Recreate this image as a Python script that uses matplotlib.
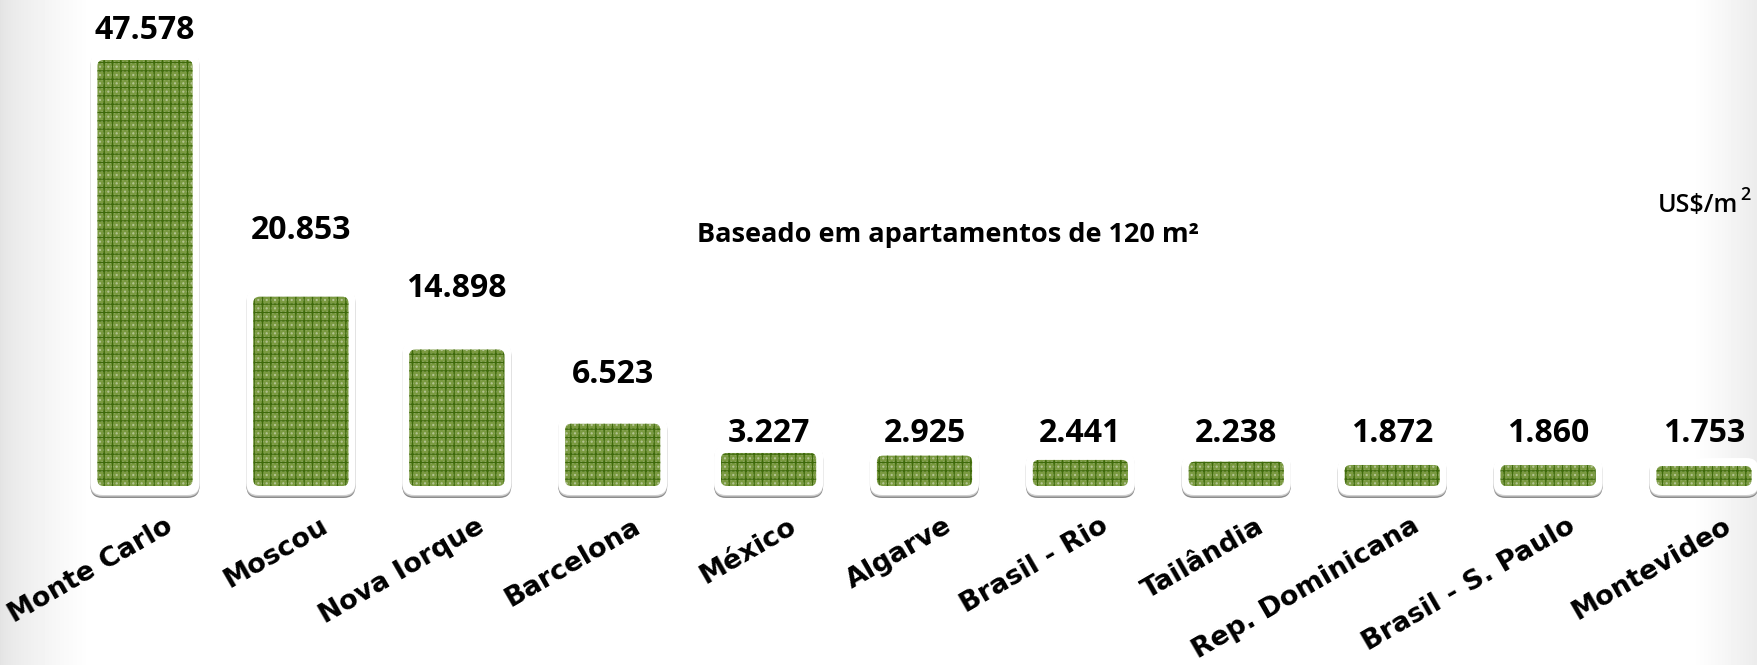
import numpy as np
import matplotlib.pyplot as plt
from matplotlib.patches import FancyBboxPatch

# data
cities = ["Monte Carlo", "Moscou", "Nova Iorque", "Barcelona", "México", "Algarve",
          "Brasil - Rio", "Tailândia", "Rep. Dominicana", "Brasil - S. Paulo", "Montevideo"]
prices = [47578, 20853, 14898, 6523, 3227, 2925, 2441, 2238, 1872, 1860, 1753]
note = "Baseado em apartamentos de 120 m²"
unit = "US$/m"

# layout: gap (px) between each bar top and its value label, as placed in the original
label_gap_px = [21, 58, 53, 41, 11, 14, 18, 20, 23, 23, 24]

W, H = 1758, 665
FONT = "Open Sans"
axis_floor = -500          # value axis starts slightly below zero

fig = plt.figure(figsize=(W / 100, H / 100), dpi=100)

# background with soft grey edges
bg = fig.add_axes([0, 0, 1, 1], zorder=0)
bg.axis("off")
xs = np.arange(W)
shade = np.ones(W)
left = xs < 90
shade[left] = 0.89 + 0.11 * (xs[left] / 90) ** 0.7
right = xs > 1690
shade[right] = 1.0 - 0.08 * ((xs[right] - 1690) / 68) ** 1.2
bg.imshow(np.tile(shade, (2, 1)), cmap="gray", vmin=0, vmax=1, aspect="auto",
          extent=[0, 1, 0, 1])
bg.set_xlim(0, 1)
bg.set_ylim(0, 1)

# plotting axes: baseline at y=486 px, tallest bar top at y=60 px
base_px, top_px = 486, 60
ax = fig.add_axes([0, (H - base_px) / H, 1, (base_px - top_px) / H], zorder=1)
ax.patch.set_alpha(0)
ax.axis("off")

step_px = 155.9
first_px = 145
x = np.arange(len(cities))
ax.set_xlim(-first_px / step_px, (W - first_px) / step_px)
ax.set_ylim(axis_floor, max(prices))

bars = ax.bar(x, [p - axis_floor for p in prices], bottom=axis_floor, width=0.61)

# pixel -> data conversions
px_x = ax.transData.transform((1, 0))[0] - ax.transData.transform((0, 0))[0]
px_y = ax.transData.transform((0, 1))[1] - ax.transData.transform((0, 0))[1]
aspect = (1 / px_y) / (1 / px_x)

for b in bars:
    b.set_visible(False)
    bx, by, bw, bh = b.get_x(), b.get_y(), b.get_width(), b.get_height()

    # shadow + white frame
    pad_x, pad_t, pad_b = 7 / px_x, 8 / px_y, 9 / px_y
    fx, fy = bx - pad_x, by - pad_b
    fw, fh = bw + 2 * pad_x, bh + pad_t + pad_b
    r_frame = 12 / px_x
    frame_style = f"round,pad=0,rounding_size={r_frame}"
    shadow = FancyBboxPatch((fx, fy - 3 / px_y), fw, fh, boxstyle=frame_style,
                            mutation_aspect=aspect, facecolor="#8c8c8c",
                            edgecolor="none", clip_on=False, zorder=2)
    halo = FancyBboxPatch((fx, fy - 1.5 / px_y), fw, fh, boxstyle=frame_style,
                          mutation_aspect=aspect, facecolor="#d0d0d0",
                          edgecolor="none", clip_on=False, zorder=2.5)
    frame = FancyBboxPatch((fx, fy), fw, fh, boxstyle=frame_style,
                           mutation_aspect=aspect, facecolor="white",
                           edgecolor="none", clip_on=False, zorder=3)
    ax.add_patch(shadow)
    ax.add_patch(halo)
    ax.add_patch(frame)

    # green textured bar
    r_bar = min(6 / px_x, 0.45 * bh * px_y / px_x)
    style = f"round,pad=0,rounding_size={r_bar}"
    fill = FancyBboxPatch((bx, by), bw, bh, boxstyle=style, mutation_aspect=aspect,
                          facecolor="#7a9a40", edgecolor="none", clip_on=False, zorder=4)
    dots = FancyBboxPatch((bx, by), bw, bh, boxstyle=style, mutation_aspect=aspect,
                          facecolor="none", edgecolor="#b9c79c", linewidth=0,
                          hatch="....", clip_on=False, zorder=5)
    grid = FancyBboxPatch((bx, by), bw, bh, boxstyle=style, mutation_aspect=aspect,
                          facecolor="none", edgecolor="#3e6a0a", linewidth=0,
                          hatch="++", clip_on=False, zorder=6)
    ax.add_patch(fill)
    ax.add_patch(dots)
    ax.add_patch(grid)

# value labels
for xi, v, gap in zip(x, prices, label_gap_px):
    ax.annotate(f"{v:,}".replace(",", "."), xy=(xi, v), xytext=(0, gap * 0.72),
                textcoords="offset points", ha="center", va="baseline",
                fontsize=23, fontweight="bold", family=FONT, color="black",
                annotation_clip=False, zorder=7)

# category labels
for xi, name in zip(x, cities):
    ax.annotate(name, xy=(xi, axis_floor), xytext=(21, -32), textcoords="offset points",
                ha="right", va="baseline", rotation=30, rotation_mode="anchor",
                fontsize=19.5, fontweight="bold", family="DejaVu Sans", color="black",
                annotation_clip=False, zorder=7)

fig.text(948 / W, 1 - 242 / H, note, ha="center", va="baseline",
         fontsize=19.5, fontweight="bold", family=FONT)
fig.text(1738 / W, 1 - 212 / H, unit, ha="right", va="baseline",
         fontsize=18, fontweight="semibold", family=FONT)
fig.text(1740 / W, 1 - 200 / H, "2", ha="left", va="baseline",
         fontsize=13, fontweight="semibold", family=FONT)

fig.savefig("out.png", dpi=100)
